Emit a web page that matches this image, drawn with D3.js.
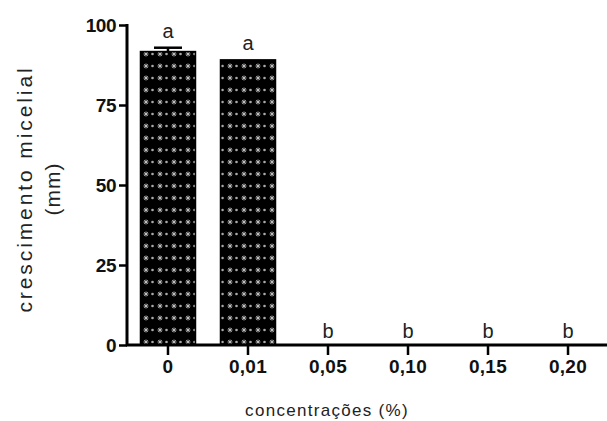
<!DOCTYPE html>
<html><head><meta charset="utf-8">
<script src="https://cdn.jsdelivr.net/npm/d3@7"></script>
<style>body{margin:0;background:#fff}svg{display:block}</style>
</head><body>
<script>
const categories = ["0","0,01","0,05","0,10","0,15","0,20"];
const values = [91.7, 89.1, 0, 0, 0, 0];
const errors = [1.2, 0, 0, 0, 0, 0];
const letters = ["a","a","b","b","b","b"];
const yTicks = [0,25,50,75,100];

const W=607,H=421;
const FONT="Liberation Sans, Arial, sans-serif";
const svg=d3.select("body").append("svg").attr("width",W).attr("height",H);
const defs=svg.append("defs");
const pat=defs.append("pattern").attr("id","dots").attr("patternUnits","userSpaceOnUse")
  .attr("width",14).attr("height",12).attr("x",142).attr("y",0);
pat.append("rect").attr("width",14).attr("height",12).attr("fill","#000");
pat.append("path").attr("d","M4,3.5V8.5M1.5,6H6.5M2.2,4.2L5.8,7.8M5.8,4.2L2.2,7.8")
  .attr("stroke","#c4c4c4").attr("stroke-width",0.9);
pat.append("circle").attr("cx",10.5).attr("cy",6).attr("r",1.3).attr("fill","#aaa");

const x=d3.scaleBand().domain(categories).range([128,608]).paddingInner(0.3125).paddingOuter(0.156);
const y=d3.scaleLinear().domain([0,100]).range([345,25]);

// bars
svg.selectAll("rect.bar").data(values).join("rect").attr("class","bar")
  .attr("x",(d,i)=>x(categories[i])).attr("width",x.bandwidth())
  .attr("y",d=>y(d)).attr("height",d=>y(0)-y(d))
  .attr("fill","url(#dots)").attr("stroke","#000").attr("stroke-width",1.5);

// error bars
values.forEach((v,i)=>{
  if(errors[i]>0){
    const cx=x(categories[i])+x.bandwidth()/2;
    svg.append("line").attr("x1",cx).attr("x2",cx).attr("y1",y(v)).attr("y2",y(v+errors[i])).attr("stroke","#000").attr("stroke-width",2.5);
    svg.append("line").attr("x1",cx-14).attr("x2",cx+14).attr("y1",y(v+errors[i])).attr("y2",y(v+errors[i])).attr("stroke","#000").attr("stroke-width",2.5);
  }
});

// letters
svg.selectAll("text.let").data(letters).join("text").attr("class","let")
  .attr("x",(d,i)=>x(categories[i])+x.bandwidth()/2)
  .attr("y",(d,i)=>values[i]>0 ? y(values[i]+errors[i])-10 : y(0)-7)
  .attr("text-anchor","middle").attr("font-family",FONT)
  .attr("font-size",20).attr("fill","#222").text(d=>d);

// y axis
const ya=svg.append("g").attr("transform","translate(127,0)")
  .call(d3.axisLeft(y).tickValues(yTicks).tickSize(8).tickPadding(3));
ya.select(".domain").attr("stroke-width",3).attr("d","M0,24V346");
ya.selectAll(".tick line").attr("stroke-width",2.5);
ya.selectAll(".tick text").attr("font-family",FONT).attr("dy","0.35em")
  .attr("font-size",19).attr("font-weight","bold").attr("fill","#111").attr("letter-spacing",-0.5);

// x axis
const xa=svg.append("g").attr("transform","translate(0,345)")
  .call(d3.axisBottom(x).tickSize(10).tickPadding(5));
xa.select(".domain").attr("stroke-width",3).attr("d","M126,0H607");
xa.selectAll(".tick line").attr("stroke-width",2.5);
xa.selectAll(".tick text").attr("font-family",FONT)
  .attr("font-size",19).attr("font-weight","bold").attr("fill","#111").attr("letter-spacing",0.3);

// titles
svg.append("text").attr("x",327).attr("y",416).attr("text-anchor","middle")
  .attr("font-family",FONT).attr("font-size",17)
  .attr("letter-spacing",1.3).attr("fill","#222").text("concentrações (%)");
const yl=svg.append("text").attr("transform","translate(0,189) rotate(-90)")
  .attr("text-anchor","middle").attr("font-family",FONT)
  .attr("font-size",21).attr("letter-spacing",2.9).attr("fill","#222");
yl.append("tspan").attr("x",0).attr("y",32).text("crescimento micelial");
yl.append("tspan").attr("x",0).attr("y",60).attr("letter-spacing",1).text("(mm)");
</script>
</body></html>
